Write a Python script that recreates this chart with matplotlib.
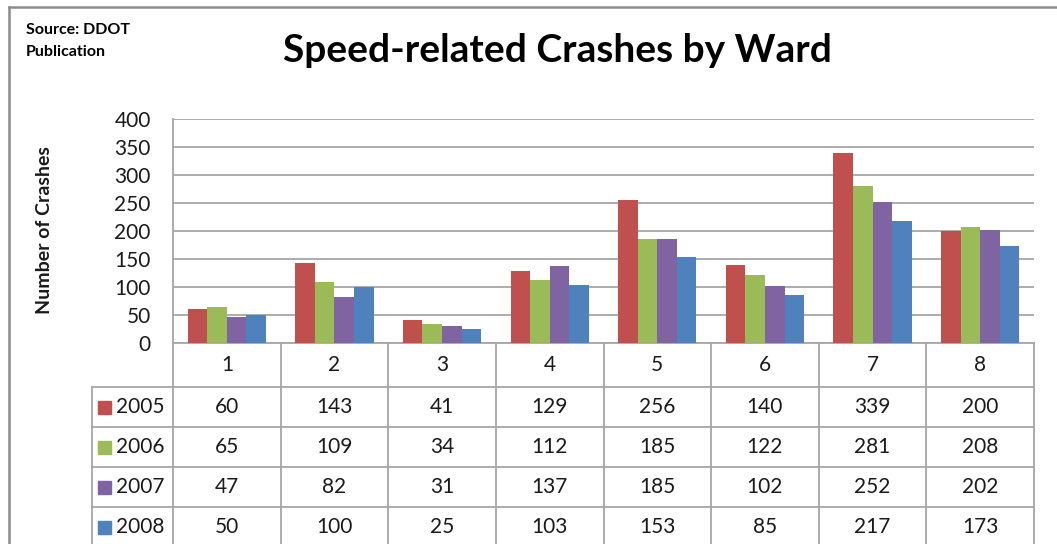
import matplotlib.pyplot as plt
import numpy as np

# --- data ---
wards = ['1', '2', '3', '4', '5', '6', '7', '8']
years = ['2005', '2006', '2007', '2008']
crashes_2005 = [60, 143, 41, 129, 256, 140, 339, 200]
crashes_2006 = [65, 109, 34, 112, 185, 122, 281, 208]
crashes_2007 = [47, 82, 31, 137, 185, 102, 252, 202]
crashes_2008 = [50, 100, 25, 103, 153, 85, 217, 173]
series = [crashes_2005, crashes_2006, crashes_2007, crashes_2008]
colors = ['#C0504D', '#9BBB59', '#8064A2', '#4F81BD']

plt.rcParams['font.family'] = ['Lato', 'DejaVu Sans']
grid_col = '#A6A6A6'
txt_col = '#1A1A1A'
fs = 15

W, H = 1057, 544
fig = plt.figure(figsize=(W / 100, H / 100), dpi=100)

def px_axes(x0, y0, x1, y1):
    # axes from pixel box (top-left origin)
    return fig.add_axes([x0 / W, 1 - y1 / H, (x1 - x0) / W, (y1 - y0) / H])

# outer frame
fig.add_artist(plt.Line2D([9 / W, 9 / W], [0, 1 - 7 / H], color='#8C8C8C', lw=1.8))
fig.add_artist(plt.Line2D([9 / W, 1], [1 - 7 / H, 1 - 7 / H], color='#8C8C8C', lw=1.8))

# --- bar chart ---
ax = px_axes(173, 119, 1034, 343)
x = np.arange(len(wards))
bw = 0.182
for i, (vals, c) in enumerate(zip(series, colors)):
    ax.bar(x + (i - 1.5) * bw, vals, bw, color=c, edgecolor='none', zorder=3)

ax.set_xlim(-0.5, len(wards) - 0.5)
ax.set_ylim(0, 400)
ax.set_yticks(range(0, 401, 50))
ax.yaxis.grid(True, color=grid_col, lw=1.3, zorder=0)
ax.tick_params(axis='y', length=0, pad=16, labelsize=fs, labelcolor=txt_col)
ax.set_xticks([])
for s in ['top', 'right']:
    ax.spines[s].set_visible(False)
for s in ['left', 'bottom']:
    ax.spines[s].set_color(grid_col)
    ax.spines[s].set_linewidth(1.3)

fig.text(45 / W, 1 - 230 / H, 'Number of Crashes', rotation=90, ha='center', va='center',
         fontsize=14, fontweight='bold', color=txt_col)

# --- data table under the chart ---
left_col = 81 / 107.6
tab = px_axes(92, 343, 1034, 547)
tab.set_xlim(-0.5 - left_col, len(wards) - 0.5)
tab.set_ylim(204, 0)
tab.axis('off')
rows = [0, 44, 84, 124, 164, 204]
lkw = dict(color=grid_col, lw=1.3, clip_on=False)
for r in rows[1:]:
    tab.plot([-0.5 - left_col, len(wards) - 0.5], [r, r], **lkw)
for b in np.arange(len(wards) + 1) - 0.5:
    tab.plot([b, b], [0, 204], **lkw)
tab.plot([-0.5 - left_col] * 2, [rows[1], 204], **lkw)

for j, w in enumerate(wards):
    tab.text(j, (rows[0] + rows[1]) / 2, w, ha='center', va='center', fontsize=fs, color=txt_col)
for i, (yr, vals, c) in enumerate(zip(years, series, colors)):
    yc = (rows[i + 1] + rows[i + 2]) / 2
    tab.add_patch(plt.Rectangle((-0.5 - left_col + 0.055, yc - 6.5), 0.125, 13,
                                color=c, clip_on=False))
    tab.text(-0.5 - left_col + 0.22, yc, yr, ha='left', va='center', fontsize=fs, color=txt_col)
    for j, v in enumerate(vals):
        tab.text(j, yc, str(v), ha='center', va='center', fontsize=fs, color=txt_col)

# --- titles ---
fig.text(557 / W, 1 - 50 / H, 'Speed-related Crashes by Ward', ha='center', va='center',
         fontsize=28, fontweight='bold', color='black')
fig.text(26 / W, 1 - 30 / H, 'Source: DDOT', ha='left', va='center', fontsize=11.5,
         fontweight='bold', color='black')
fig.text(26 / W, 1 - 52 / H, 'Publication', ha='left', va='center', fontsize=11.5,
         fontweight='bold', color='black')

fig.savefig('out.png', dpi=100)
